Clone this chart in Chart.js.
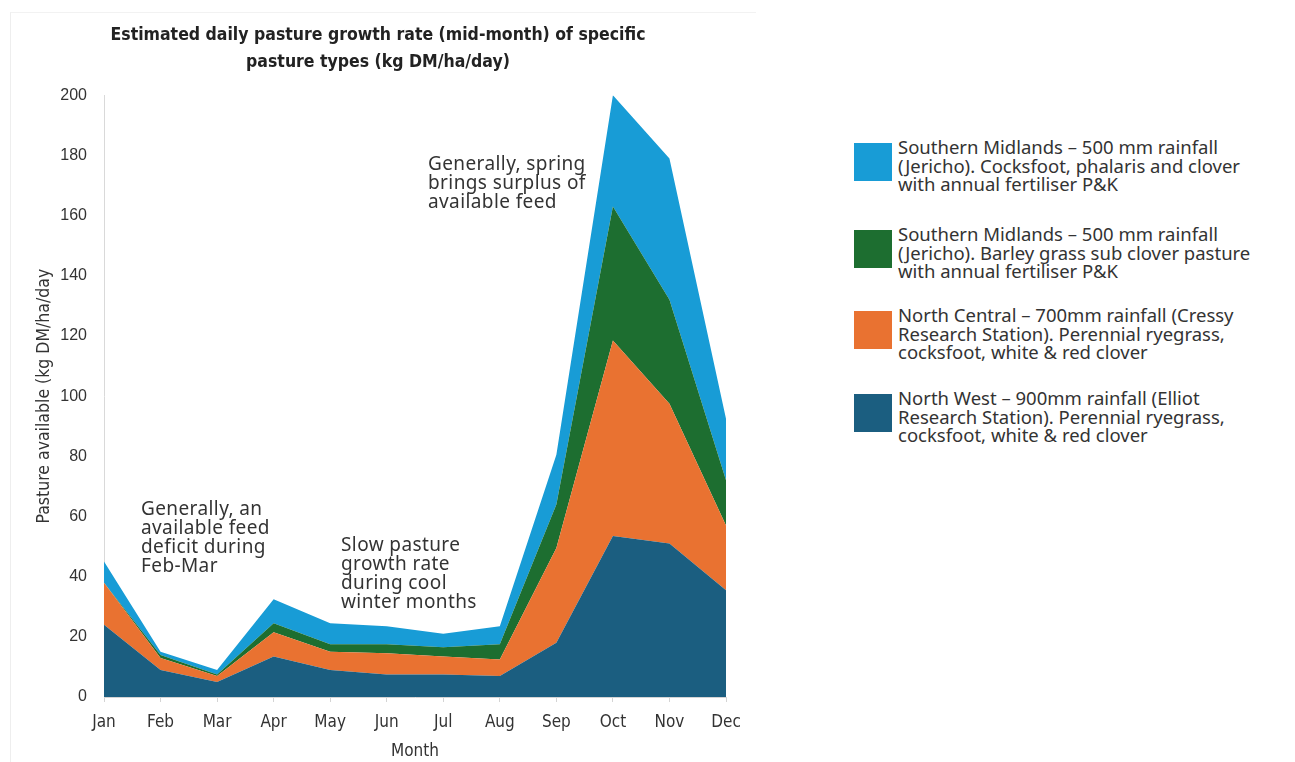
<!DOCTYPE html>
<html>
<head>
<meta charset="utf-8">
<script src="https://cdn.jsdelivr.net/npm/chart.js@4"></script>
<style>
  body { margin: 0; background: #fff; }
  #wrap { position: absolute; left: 0; top: 0; width: 770px; height: 762px; }
  #frame { position: absolute; left: 10px; top: 12px; width: 745px; height: 760px; border-left: 1px solid #eeeeee; border-top: 1px solid #f2f2f2; }
  #legend { position: absolute; left: 854px; top: 138px; font-family: "Noto Sans", sans-serif; font-size: 18.5px; color: #333; }
  .item { position: absolute; left: 0; width: 440px; }
  .box { position: absolute; left: 0; width: 38px; height: 38px; }
  .txt { position: absolute; left: 44px; white-space: pre; line-height: 18.5px; }
</style>
</head>
<body>
<div id="frame"></div>
<div id="wrap"><canvas id="c" width="770" height="762"></canvas></div>
<div id="legend"></div>
<script>
const months = ['Jan', 'Feb', 'Mar', 'Apr', 'May', 'Jun', 'Jul', 'Aug', 'Sep', 'Oct', 'Nov', 'Dec'];

// stacked order: bottom to top
const northWest = [24, 9, 5, 13.5, 9, 7.5, 7.5, 7, 18, 53.5, 51, 35.5];
const northCentral = [14, 4, 2, 8, 6, 7, 6, 5.5, 31.5, 65, 46.5, 21.5];
const smBarley = [0, 1, 0.5, 3, 2.5, 3, 3, 5, 14.5, 44.5, 34.5, 15];
const smCocksfoot = [7, 1, 1.5, 8, 7, 6, 4.5, 6, 16.5, 37, 47, 20.5];

const yTicks = [0, 20, 40, 60, 80, 100, 120, 140, 160, 180, 200];

const labelNW = 'North West – 900mm rainfall (Elliot\nResearch Station). Perennial ryegrass,\ncocksfoot, white & red clover';
const labelNC = 'North Central – 700mm rainfall (Cressy\nResearch Station). Perennial ryegrass,\ncocksfoot, white & red clover';
const labelBarley = 'Southern Midlands – 500 mm rainfall\n(Jericho). Barley grass sub clover pasture\nwith annual fertiliser P&K';
const labelCocks = 'Southern Midlands – 500 mm rainfall\n(Jericho). Cocksfoot, phalaris and clover\nwith annual fertiliser P&K';

const notes = [
  { lines: ['Generally, an', 'available feed', 'deficit during', 'Feb-Mar'], x: 141, y: 510 },
  { lines: ['Slow pasture', 'growth rate', 'during cool', 'winter months'], x: 341, y: 546 },
  { lines: ['Generally, spring', 'brings surplus of', 'available feed'], x: 428, y: 165 }
];

const notePlugin = {
  id: 'notes',
  afterDatasetsDraw(chart) {
    const c = chart.ctx;
    c.save();
    c.fillStyle = '#333';
    c.font = '19px "Noto Sans"';
    c.letterSpacing = '0.4px';
    c.textBaseline = 'middle';
    notes.forEach(n => {
      n.lines.forEach((t, i) => c.fillText(t, n.x, n.y + i * 18.7));
    });
    c.restore();
  }
};

const ds = (label, data, color, fill) => ({
  label, data, fill,
  backgroundColor: color, borderColor: color,
  borderWidth: 0, pointRadius: 0, tension: 0
});

const chart = new Chart(document.getElementById('c'), {
  type: 'line',
  data: {
    labels: months,
    datasets: [
      ds(labelNW, northWest, '#1b5e80', 'origin'),
      ds(labelNC, northCentral, '#e97231', '-1'),
      ds(labelBarley, smBarley, '#1d6e30', '-1'),
      ds(labelCocks, smCocksfoot, '#189cd6', '-1')
    ]
  },
  options: {
    responsive: false,
    animation: false,
    layout: { padding: { left: 30, right: 44, top: 14, bottom: 0 } },
    plugins: {
      legend: { display: false },
      tooltip: { enabled: false },
      title: {
        display: true,
        text: ['Estimated daily pasture growth rate (mid-month) of specific', 'pasture types (kg DM/ha/day)'],
        color: '#222',
        font: { family: 'DejaVu Sans Condensed', weight: 'bold', size: 17.5, lineHeight: 1.55 },
        padding: { top: 8, bottom: 19 }
      }
    },
    scales: {
      x: {
        offset: false,
        afterFit: s => { s.height = 65; },
        grid: { drawOnChartArea: false, color: '#d4d4d4', tickLength: 5 },
        border: { color: '#d4d4d4' },
        ticks: { color: '#333', font: { family: 'DejaVu Sans Condensed', size: 17 }, padding: 10, maxRotation: 0 },
        title: { display: true, text: 'Month', color: '#333', font: { family: 'DejaVu Sans Condensed', size: 17 }, padding: { top: 11, bottom: 0 } }
      },
      y: {
        stacked: true,
        min: 0, max: 200,
        afterFit: s => { s.width = 74; },
        afterBuildTicks: s => { s.ticks = yTicks.map(v => ({ value: v })); },
        grid: { display: false, drawTicks: false },
        border: { display: true, color: '#d9d9d9' },
        ticks: { color: '#333', font: { family: 'Liberation Sans', size: 16 }, padding: 17 },
        title: { display: true, text: 'Pasture available (kg DM/ha/day', color: '#333', font: { family: 'DejaVu Sans Condensed', size: 17.5 }, padding: { top: 3.5, bottom: 5.5 } }
      }
    }
  },
  plugins: [notePlugin]
});

// HTML legend, top to bottom as in the reference
const legendEl = document.getElementById('legend');
const tops = [0, 87, 168, 251];
[3, 2, 1, 0].forEach((idx, i) => {
  const d = chart.data.datasets[idx];
  const item = document.createElement('div');
  item.className = 'item';
  item.style.top = tops[i] + 'px';
  const box = document.createElement('div');
  box.className = 'box';
  box.style.top = '5px';
  box.style.background = d.backgroundColor;
  const txt = document.createElement('div');
  txt.className = 'txt';
  txt.style.top = '0px';
  txt.textContent = d.label;
  item.appendChild(box);
  item.appendChild(txt);
  legendEl.appendChild(item);
});
</script>
</body>
</html>
